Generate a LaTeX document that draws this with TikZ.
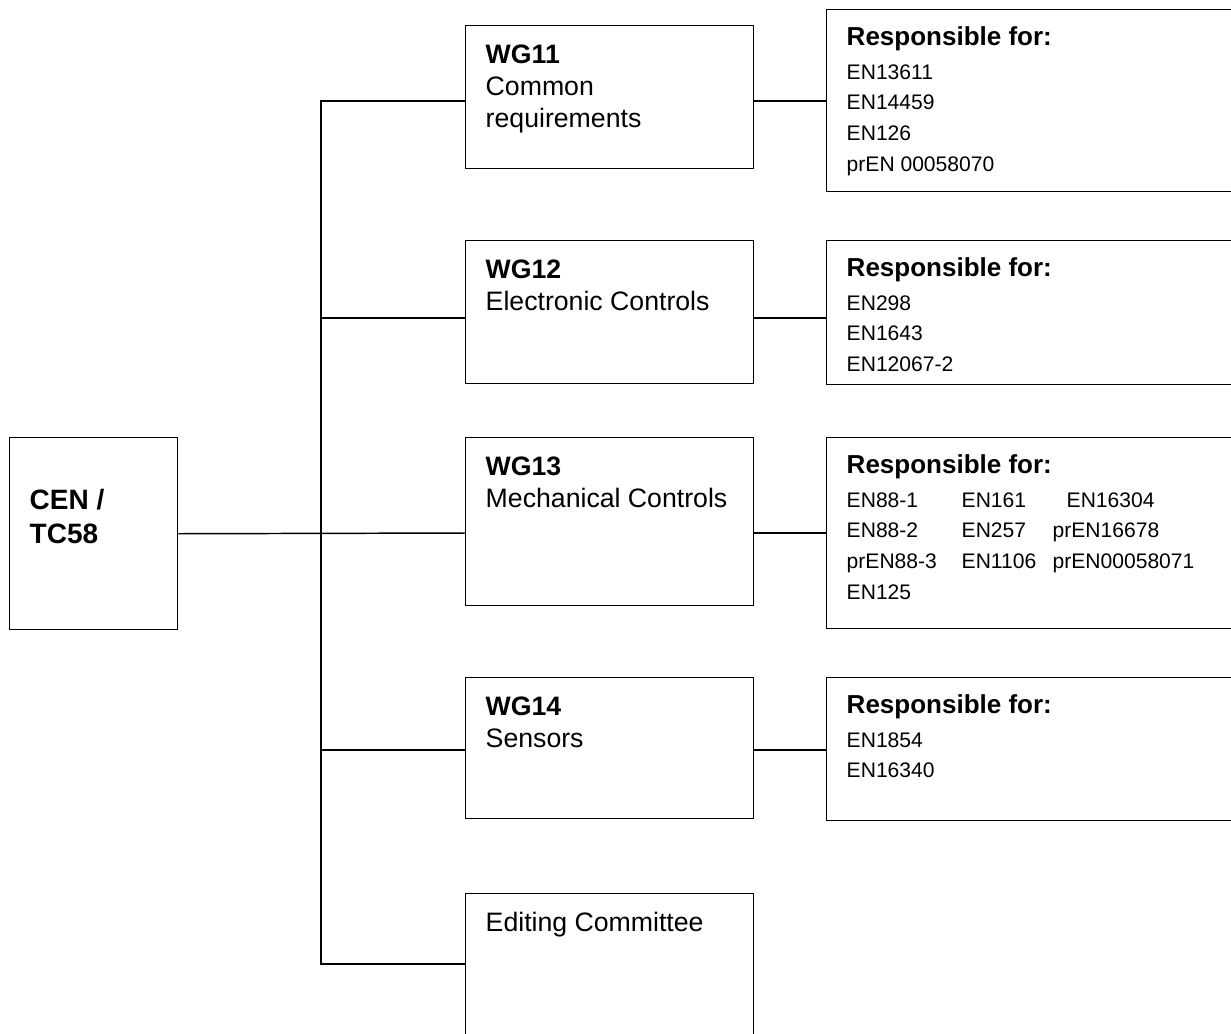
\documentclass[tikz,border=0pt]{standalone}
\usepackage{fontspec}
\setmainfont{Liberation Sans}
\usepackage{tikz}
\tikzstyle{orgbox}=[shape=rectangle,
                draw=black,
                line width=1.1pt,
                anchor=north west,
                inner xsep=15pt,
                inner ysep=0pt]
\tikzstyle{link}=[line width=1.1pt]
\newcommand{\boxtext}[4]{\parbox[t][#1][t]{#2}{\rule{0pt}{#3}#4}}
\newcommand{\wgfont}{\fontsize{20}{24}\selectfont}
\newcommand{\respfont}{\fontsize{19.5}{24}\selectfont\bfseries}
\newcommand{\enfont}{\fontsize{15.8}{23}\selectfont}
\newcommand{\encols}[3]{\makebox[86.25pt][l]{#1}\makebox[68.25pt][l]{#2}#3}

\begin{document}
\begin{tikzpicture}[x=0.75pt, y=-0.75pt]
\useasboundingbox (0,0) rectangle (1231,1033);
\clip (0,0) rectangle (1231,1033);

% committee
\node[orgbox] (cen) at (9,437) {\boxtext{144pt}{96pt}{54pt}{\fontsize{21}{25.5}\selectfont\bfseries CEN /\\TC58}};

% working groups
\node[orgbox] (wg11) at (465,25)  {\boxtext{107.25pt}{186pt}{28.5pt}{\wgfont\textbf{WG11}\\Common\\requirements}};
\node[orgbox] (wg12) at (465,240) {\boxtext{107.25pt}{186pt}{28.5pt}{\wgfont\textbf{WG12}\\Electronic Controls}};
\node[orgbox] (wg13) at (465,437) {\boxtext{126pt}{186pt}{28.5pt}{\wgfont\textbf{WG13}\\Mechanical Controls}};
\node[orgbox] (wg14) at (465,677) {\boxtext{105.75pt}{186pt}{28.5pt}{\wgfont\textbf{WG14}\\Sensors}};
\node[orgbox] (edit) at (465,893) {\boxtext{120pt}{186pt}{28.5pt}{\wgfont Editing Committee}};

% standards of each group
\node[orgbox] (resp11) at (826,9) {\boxtext{136.5pt}{285pt}{27pt}{{\respfont Responsible for:\par}\vspace{2pt}
  {\enfont EN13611\\EN14459\\EN126\\prEN 00058070\par}}};
\node[orgbox] (resp12) at (826,240) {\boxtext{108pt}{285pt}{27pt}{{\respfont Responsible for:\par}\vspace{2pt}
  {\enfont EN298\\EN1643\\EN12067-2\par}}};
\node[orgbox] (resp13) at (826,437) {\boxtext{143.25pt}{285pt}{27pt}{{\respfont Responsible for:\par}\vspace{2pt}
  {\enfont \encols{EN88-1}{EN161}{\hspace{10.5pt}EN16304}\\
  \encols{EN88-2}{EN257}{prEN16678}\\
  \encols{prEN88-3}{EN1106}{prEN00058071}\\
  EN125\par}}};
\node[orgbox] (resp14) at (826,677) {\boxtext{107.25pt}{285pt}{27pt}{{\respfont Responsible for:\par}\vspace{2pt}
  {\enfont EN1854\\EN16340\par}}};

% branch points on the trunk
\coordinate (b1) at (321,101);
\coordinate (b2) at (321,318);
\coordinate (b3) at (321,533);
\coordinate (b4) at (321,750);
\coordinate (b5) at (321,964);

% paths
\draw[link] (b1 -| wg11.west) -- (b1) -- (b5) -- (b5 -| edit.west);
\draw[link] (b2) -- (b2 -| wg12.west);
\draw[link] (cen.east) -- (b3 -| wg13.west);
\draw[link] (b4) -- (b4 -| wg14.west);

\draw[link] (wg11.east |- b1) -- (b1 -| resp11.west);
\draw[link] (wg12.east |- b2) -- (b2 -| resp12.west);
\draw[link] (wg13.east |- b3) -- (b3 -| resp13.west);
\draw[link] (wg14.east |- b4) -- (b4 -| resp14.west);

\end{tikzpicture}
\end{document}
